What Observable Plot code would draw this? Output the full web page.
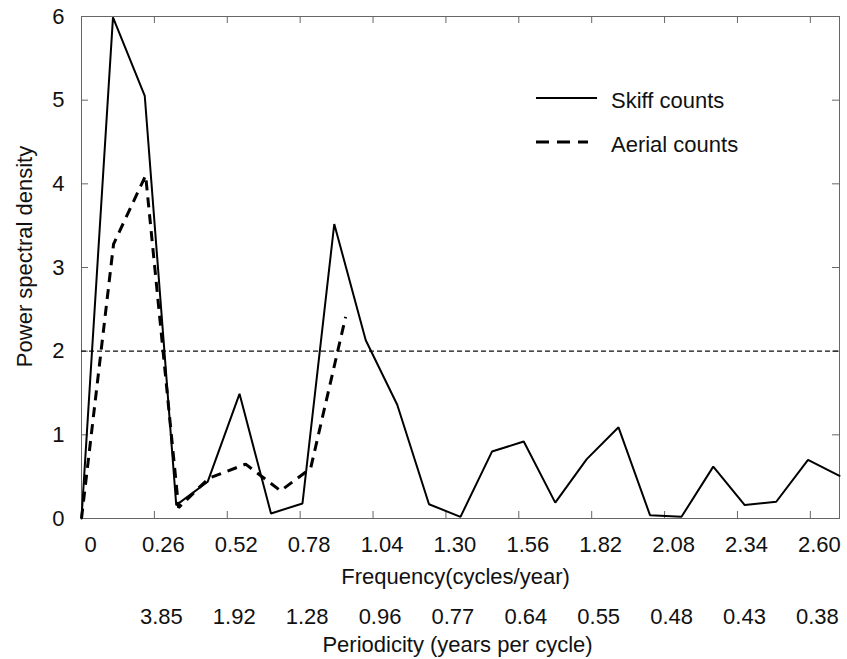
<!DOCTYPE html>
<html><head><meta charset="utf-8">
<script src="https://cdn.jsdelivr.net/npm/d3@7"></script>
<script src="https://cdn.jsdelivr.net/npm/@observablehq/plot@0.6"></script>
<style>
html,body{margin:0;padding:0;background:#fff;}
#chart{width:847px;height:659px;}
</style>
</head><body><div id="chart"></div>
<script>
// ---- data ----
const skiffFreq = [0, 0.108, 0.217, 0.325, 0.433, 0.542, 0.650, 0.758, 0.867, 0.975, 1.083, 1.192, 1.300,
                   1.408, 1.517, 1.625, 1.733, 1.842, 1.950, 2.058, 2.167, 2.275, 2.383, 2.492, 2.600];
const skiffPSD  = [0, 5.99, 5.05, 0.16, 0.44, 1.49, 0.06, 0.18, 3.52, 2.13, 1.36, 0.17, 0.02,
                   0.80, 0.92, 0.19, 0.71, 1.09, 0.04, 0.02, 0.62, 0.16, 0.20, 0.70, 0.51];
const aerialFreq = [0, 0.110, 0.220, 0.333, 0.436, 0.563, 0.683, 0.786, 0.906];
const aerialPSD  = [0, 3.28, 4.10, 0.13, 0.48, 0.65, 0.33, 0.60, 2.41];
const threshold = 2;

const xTicks = [0, 0.25, 0.5, 0.75, 1.0, 1.25, 1.5, 1.75, 2.0, 2.25, 2.5];
const freqLabels = ["0", "0.26", "0.52", "0.78", "1.04", "1.30", "1.56", "1.82", "2.08", "2.34", "2.60"];
const periodLabels = ["3.85", "1.92", "1.28", "0.96", "0.77", "0.64", "0.55", "0.48", "0.43", "0.38"];
const yTicks = [0, 1, 2, 3, 4, 5, 6];
const xDomain = [0, 2.6];
const yDomain = [0, 6];

const seriesNames = ["Skiff counts", "Aerial counts"];
const xTitle = "Frequency(cycles/year)";
const periodTitle = "Periodicity (years per cycle)";
const yTitle = "Power spectral density";

// ---- layout ----
const W = 847, H = 659;
const mL = 81, mR = 8, mT = 16, mB = 141;
const tickPx = 7;
const fs = 22;
const txLen = tickPx * (xDomain[1] - xDomain[0]) / (W - mL - mR);
const tyLen = tickPx * (yDomain[1] - yDomain[0]) / (H - mT - mB);

const skiff = skiffFreq.map((f, i) => ({f, p: skiffPSD[i]}));
const aerial = aerialFreq.map((f, i) => ({f, p: aerialPSD[i]}));

const frameColor = "#666";
const ink = "#111";
const font = "'Liberation Sans', Arial, Helvetica, sans-serif";

const plot = Plot.plot({
  width: W, height: H,
  marginLeft: mL, marginRight: mR, marginTop: mT, marginBottom: mB,
  style: {fontFamily: font, fontSize: fs + "px", color: ink, background: "#fff", overflow: "visible"},
  x: {domain: xDomain, axis: null},
  y: {domain: yDomain},
  marks: [
    Plot.frame({stroke: frameColor, strokeWidth: 1}),
    // inward ticks on all four sides
    Plot.ruleX(xTicks.slice(1), {x: d => d, y1: yDomain[0], y2: yDomain[0] + tyLen, stroke: frameColor}),
    Plot.ruleX(xTicks.slice(1), {x: d => d, y1: yDomain[1] - tyLen, y2: yDomain[1], stroke: frameColor}),
    Plot.ruleY(yTicks.slice(1, -1), {y: d => d, x1: xDomain[0], x2: xDomain[0] + txLen, stroke: frameColor}),
    Plot.ruleY(yTicks.slice(1, -1), {y: d => d, x1: xDomain[1] - txLen, x2: xDomain[1], stroke: frameColor}),
    Plot.axisY(yTicks, {tickSize: 0, tickPadding: 17, label: null, fontSize: fs, tickFormat: d => String(d), fill: ink}),
    // significance threshold
    Plot.ruleY([threshold], {stroke: ink, strokeWidth: 1.2, strokeDasharray: "5,3"}),
    // series
    Plot.line(skiff, {x: "f", y: "p", stroke: "#000", strokeWidth: 2, strokeLinejoin: "miter"}),
    Plot.line(aerial, {x: "f", y: "p", stroke: "#000", strokeWidth: 3, strokeDasharray: "10,7", strokeLinejoin: "miter", strokeLinecap: "butt"}),
    // x labels
    Plot.text(xTicks, {x: d => d, y: yDomain[0], text: (d, i) => freqLabels[i], dy: 26, dx: 9, fontSize: fs, fill: ink, lineAnchor: "middle"}),
    Plot.text(xTicks.slice(1), {x: d => d, y: yDomain[0], text: (d, i) => periodLabels[i], dy: 98, dx: 7, fontSize: fs, fill: ink, lineAnchor: "middle"}),
    Plot.text([xTitle], {frameAnchor: "bottom", text: d => d, dy: 58, dx: -5, fontSize: fs, fill: ink, lineAnchor: "middle", textAnchor: "middle"}),
    Plot.text([periodTitle], {frameAnchor: "bottom", text: d => d, dy: 126, dx: -3, fontSize: fs, fill: ink, lineAnchor: "middle", textAnchor: "middle"}),
    Plot.text([yTitle], {frameAnchor: "left", text: d => d, rotate: -90, dx: -57, dy: -11, fontSize: fs, fill: ink, lineAnchor: "middle", textAnchor: "middle"})
  ]
});

document.getElementById("chart").appendChild(plot);

// legend
const svg = d3.select(plot);
const lg = svg.append("g").attr("font-family", font).attr("font-size", fs).attr("fill", ink);
const legendRows = [
  {name: seriesNames[0], y: 98, width: 2, dash: null, x2: 597},
  {name: seriesNames[1], y: 142, width: 3, dash: "13,8", x2: 588}
];
legendRows.forEach(r => {
  lg.append("line").attr("x1", 536).attr("x2", r.x2).attr("y1", r.y).attr("y2", r.y)
    .attr("stroke", "#000").attr("stroke-width", r.width)
    .attr("stroke-dasharray", r.dash);
  lg.append("text").attr("x", 611).attr("y", r.y + 4).attr("text-anchor", "start")
    .attr("dominant-baseline", "middle").text(r.name);
});
</script>
</body></html>
